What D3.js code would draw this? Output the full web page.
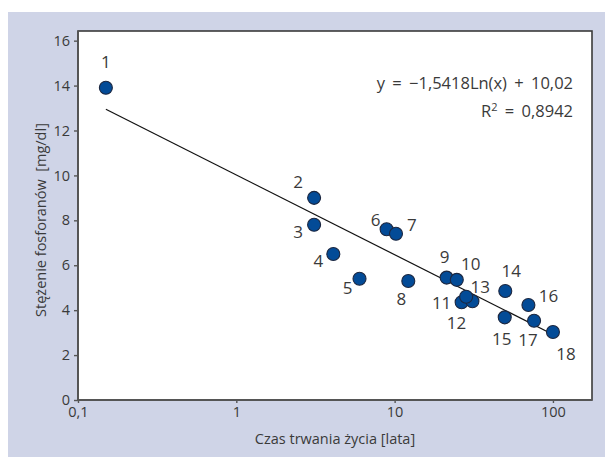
<!DOCTYPE html>
<html>
<head>
<meta charset="utf-8">
<script src="https://cdn.jsdelivr.net/npm/d3@7"></script>
<style>
  body { margin: 0; background: #fff; }
  text { font-family: "Open Sans", "Noto Sans", sans-serif; fill: #3a3a3a; }
</style>
</head>
<body>
<div id="chart"></div>
<script>
/* DATA */
const pointIds = [1, 2, 3, 4, 5, 6, 7, 8, 9, 10, 11, 12, 13, 14, 15, 16, 17, 18];
const lifeYears = [0.15, 3.1, 3.1, 4.1, 6.0, 8.9, 10.2, 12.2, 21.3, 24.7, 26.5, 31, 28.3, 50, 49.6, 70, 76, 100];
const phosphate = [13.9, 9.0, 7.8, 6.5, 5.4, 7.6, 7.4, 5.3, 5.45, 5.35, 4.35, 4.4, 4.6, 4.85, 3.68, 4.23, 3.53, 3.03];
const xTicks = [0.1, 1, 10, 100];
const xTickLabels = ["0,1", "1", "10", "100"];
const yTicks = [0, 2, 4, 6, 8, 10, 12, 14, 16];
const trendCoef = [-1.5418, 10.02]; // y = a*ln(x) + b
const equationLines = ["y = \u22121,5418Ln(x) + 10,02", "0,8942"];

// where each number label sits relative to its point
const labelOffsets = [[0, -26], [-16, -16], [-16, 7], [-15, 6], [-12, 9], [-11, -10], [16, -9], [-7, 18],
  [-2, -21], [14, -16], [-20, 0], [-16, 21], [14, -10], [6, -21], [-3, 21], [20, -9], [-6, 19], [13, 22]];

const width = 605, height = 458;
const plot = { left: 78, right: 592, top: 31, bottom: 400 };

const data = pointIds.map((id, i) => ({ id, x: lifeYears[i], y: phosphate[i], off: labelOffsets[i] }));

const svg = d3.select("#chart").append("svg")
  .attr("width", width)
  .attr("height", height);

// background panel
svg.append("rect")
  .attr("x", 8).attr("y", 12)
  .attr("width", width - 8).attr("height", 445)
  .attr("fill", "#cfd4e7");

const xScale = d3.scaleLog()
  .domain([0.1, 176.5])
  .range([plot.left, plot.right]);

const yScale = d3.scaleLinear()
  .domain([0, 16.43])
  .range([plot.bottom, plot.top]);

// plot area
svg.append("rect")
  .attr("x", plot.left).attr("y", plot.top)
  .attr("width", plot.right - plot.left).attr("height", plot.bottom - plot.top)
  .attr("fill", "#fff")
  .attr("stroke", "#3a3a3a")
  .attr("stroke-width", 1.6);

// axes
const xAxis = d3.axisBottom(xScale)
  .tickValues(xTicks)
  .tickFormat((d, i) => xTickLabels[i])
  .tickSize(3)
  .tickPadding(4);

const yAxis = d3.axisLeft(yScale)
  .tickValues(yTicks)
  .tickSize(4)
  .tickPadding(4);

svg.append("g")
  .attr("class", "axis x-axis")
  .attr("transform", `translate(0,${plot.bottom})`)
  .call(xAxis)
  .call(g => g.select(".domain").remove());

svg.append("g")
  .attr("class", "axis y-axis")
  .attr("transform", `translate(${plot.left},0)`)
  .call(yAxis)
  .call(g => g.select(".domain").remove());

svg.selectAll(".axis line").attr("stroke", "#555").attr("stroke-width", 1.4);
svg.selectAll(".axis text")
  .attr("font-size", 14.5)
  .style("font-family", "'Open Sans', sans-serif")
  .attr("fill", "#3a3a3a");

// axis lines over the border (grey)
svg.append("line")
  .attr("x1", plot.left).attr("x2", plot.right)
  .attr("y1", plot.bottom).attr("y2", plot.bottom)
  .attr("stroke", "#555").attr("stroke-width", 1.8);
svg.append("line")
  .attr("x1", plot.left).attr("x2", plot.left)
  .attr("y1", plot.top).attr("y2", plot.bottom)
  .attr("stroke", "#555").attr("stroke-width", 1.8);

// trend line (straight on a log axis, so the two ends are enough)
const xExtent = d3.extent(lifeYears);
const trend = xExtent.map(x => ({ x, y: trendCoef[0] * Math.log(x) + trendCoef[1] }));
svg.append("path")
  .datum(trend)
  .attr("fill", "none")
  .attr("stroke", "#111")
  .attr("stroke-width", 1.2)
  .attr("d", d3.line().x(d => xScale(d.x)).y(d => yScale(d.y)));

// points
svg.selectAll("circle.dot")
  .data(data)
  .join("circle")
  .attr("class", "dot")
  .attr("cx", d => xScale(d.x))
  .attr("cy", d => yScale(d.y))
  .attr("r", 6.5)
  .attr("fill", "#034b97")
  .attr("stroke", "#1c2740")
  .attr("stroke-width", 1.1);

// point numbers
svg.selectAll("text.num")
  .data(data)
  .join("text")
  .attr("class", "num")
  .attr("x", d => xScale(d.x) + d.off[0])
  .attr("y", d => yScale(d.y) + d.off[1])
  .attr("text-anchor", "middle")
  .attr("dominant-baseline", "central")
  .attr("font-size", 17)
  .text(d => d.id);

// equation
svg.append("text")
  .attr("x", 573).attr("y", 89)
  .attr("text-anchor", "end")
  .attr("font-size", 16.5)
  .attr("word-spacing", 3)
  .text(equationLines[0]);

const r2 = svg.append("text")
  .attr("x", 573).attr("y", 116.5)
  .attr("text-anchor", "end")
  .attr("font-size", 16.5)
  .attr("word-spacing", 3);
r2.append("tspan").text("R");
r2.append("tspan").attr("font-size", 11).attr("dy", -6).text("2");
r2.append("tspan").attr("dy", 6).text(" = " + equationLines[1]);

// axis titles
svg.append("text")
  .attr("x", 335).attr("y", 444)
  .attr("text-anchor", "middle")
  .attr("font-size", 14.5)
  .text("Czas trwania życia [lata]");

svg.append("text")
  .attr("transform", "translate(46,220) rotate(-90)")
  .attr("text-anchor", "middle")
  .attr("font-size", 14.5)
  .style("white-space", "pre")
  .text("Stężenie fosforanów  [mg/dl]");
</script>
</body>
</html>
